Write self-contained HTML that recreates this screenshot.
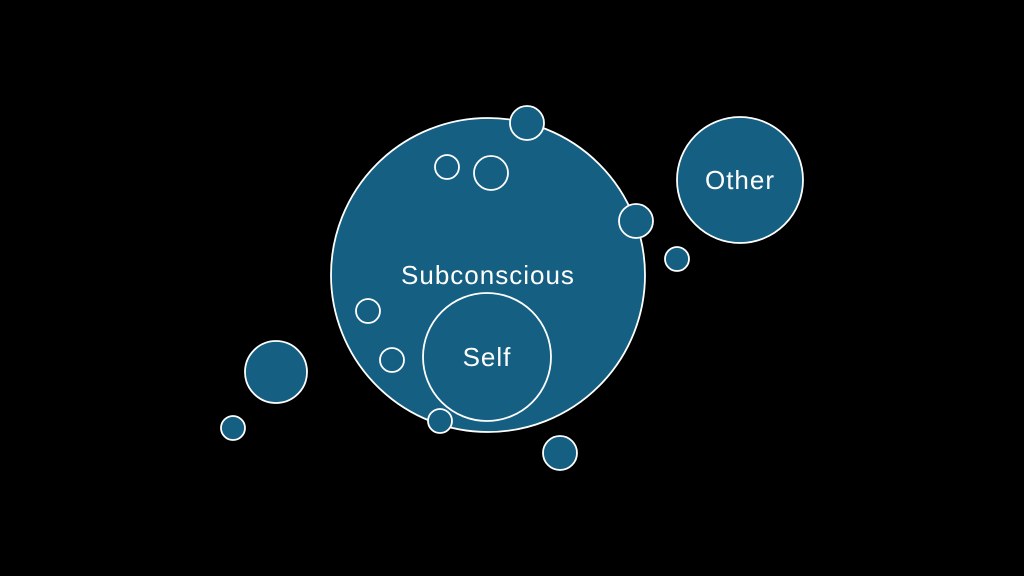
<!DOCTYPE html>
<html><head><style>html,body{margin:0;padding:0;background:#000;}svg{display:block}</style></head>
<body>
<svg width="1024" height="576" viewBox="0 0 1024 576" xmlns="http://www.w3.org/2000/svg">
<rect width="1024" height="576" fill="#000"/>
<g fill="#156082" stroke="#fff" stroke-width="1.8">
<circle cx="488" cy="275" r="157"/>
<circle cx="487" cy="357" r="64"/>
<circle cx="740" cy="180" r="63"/>
<circle cx="527" cy="123" r="17"/>
<circle cx="447" cy="167" r="12"/>
<circle cx="491" cy="173" r="17"/>
<circle cx="636" cy="221" r="17"/>
<circle cx="677" cy="259" r="12"/>
<circle cx="368" cy="311" r="12"/>
<circle cx="392" cy="360" r="12"/>
<circle cx="440" cy="421" r="12"/>
<circle cx="276" cy="372" r="31"/>
<circle cx="233" cy="428" r="12"/>
<circle cx="560" cy="453" r="17"/>
</g>
<g fill="#fff" font-family="Liberation Sans, sans-serif" font-size="26" letter-spacing="1" text-anchor="middle">
<text x="488" y="284">Subconscious</text>
<text x="487" y="366">Self</text>
<text x="740" y="189">Other</text>
</g>
</svg>
</body></html>
